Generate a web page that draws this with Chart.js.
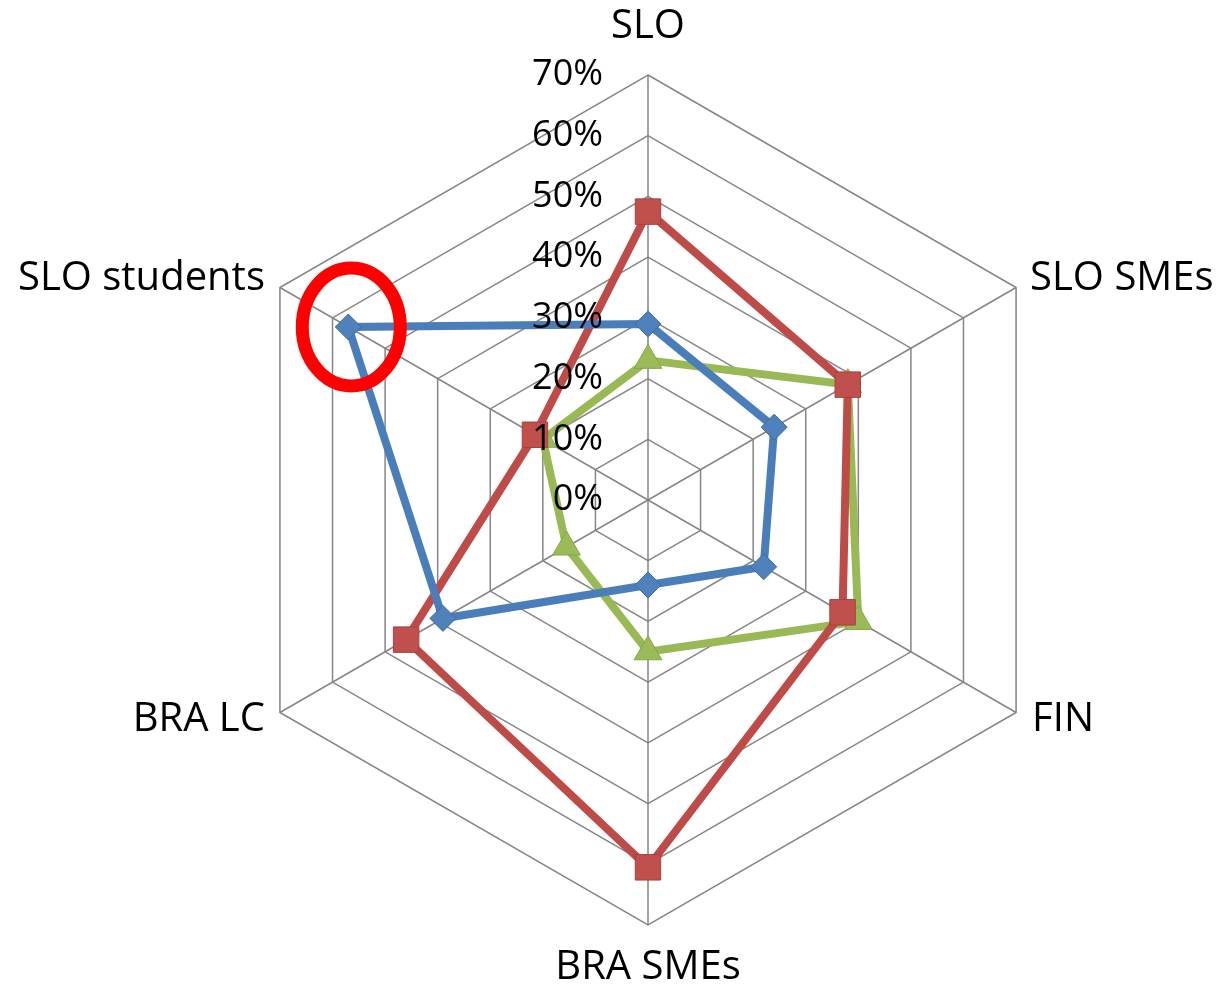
<!DOCTYPE html>
<html lang="en">
<head>
  <meta charset="UTF-8" />
  <title>Radar chart</title>
  <script src="https://cdn.jsdelivr.net/npm/chart.js"></script>
  <style>
    body {
      margin: 0;
      background: #fff;
    }
    .chart-box {
      width: 1225px;
      height: 992px;
    }
  </style>
</head>
<body>

  <div class="chart-box">
    <canvas id="radar"></canvas>
  </div>

  <script>
    const categories = ["SLO", "SLO SMEs", "FIN", "BRA SMEs", "BRA LC", "SLO students"];

    const seriesBlue = [29, 24, 22, 14, 39, 57];
    const seriesRed = [47.5, 38, 37, 60.5, 46, 21.5];
    const seriesGreen = [23, 38, 40, 25, 15.5, 20];

    const tickLabels = ["0%", "10%", "20%", "30%", "40%", "50%", "60%", "70%"];

    const FONT = "'Open Sans', 'Liberation Sans', sans-serif";

    // text is drawn by hand so the ticks sit left of the axis like the original
    const labelsPlugin = {
      id: 'labels',
      afterDatasetsDraw(chart) {
        const ctx = chart.ctx;
        const scale = chart.scales.r;
        ctx.save();
        ctx.fillStyle = '#000';
        ctx.textBaseline = 'middle';

        // tick labels
        ctx.font = `36px ${FONT}`;
        ctx.textAlign = 'right';
        scale.ticks.forEach((t, i) => {
          const d = scale.getDistanceFromCenterForValue(t.value);
          ctx.fillText(tickLabels[i], scale.xCenter - 45, scale.yCenter - d);
        });

        // category labels
        const offsets = [
          { align: 'center', dx: 0, dy: -48 },
          { align: 'left', dx: 14, dy: -9 },
          { align: 'left', dx: 16, dy: 7 },
          { align: 'center', dx: 0, dy: 43 },
          { align: 'right', dx: -15, dy: 7 },
          { align: 'right', dx: -15, dy: -9 }
        ];
        ctx.font = `40px ${FONT}`;
        categories.forEach((c, i) => {
          const p = scale.getPointPosition(i, scale.drawingArea);
          ctx.textAlign = offsets[i].align;
          ctx.fillText(c, p.x + offsets[i].dx, p.y + offsets[i].dy);
        });
        ctx.restore();
      },
      afterDraw(chart) {
        // red ring around the SLO students point of the blue series
        const pt = chart.getDatasetMeta(0).data[5];
        const ctx = chart.ctx;
        ctx.save();
        ctx.strokeStyle = '#ff0000';
        ctx.lineWidth = 13;
        ctx.beginPath();
        ctx.ellipse(pt.x + 3, pt.y, 49, 59, 0, 0, Math.PI * 2);
        ctx.stroke();
        ctx.restore();
      }
    };

    new Chart(document.getElementById('radar'), {
      type: 'radar',
      data: {
        labels: categories,
        datasets: [
          {
            label: 'Series 1',
            data: seriesBlue,
            borderColor: '#4a7ebb',
            backgroundColor: '#4a7ebb',
            fill: false,
            borderWidth: 8,
            pointStyle: 'rectRot',
            pointRadius: 13,
            pointBackgroundColor: '#4f81bd',
            pointBorderColor: '#3d6b9f',
            pointBorderWidth: 1
          },
          {
            label: 'Series 2',
            data: seriesRed,
            borderColor: '#be4b48',
            backgroundColor: '#be4b48',
            fill: false,
            borderWidth: 8,
            pointStyle: 'rect',
            pointRadius: 18,
            pointBackgroundColor: '#c0504d',
            pointBorderColor: '#a8403d',
            pointBorderWidth: 1
          },
          {
            label: 'Series 3',
            data: seriesGreen,
            borderColor: '#98b954',
            backgroundColor: '#98b954',
            fill: false,
            borderWidth: 8,
            pointStyle: 'triangle',
            pointRadius: 16,
            pointBackgroundColor: '#9bbb59',
            pointBorderColor: '#86a64a',
            pointBorderWidth: 1
          }
        ]
      },
      options: {
        responsive: true,
        maintainAspectRatio: false,
        animation: false,
        layout: {
          padding: { left: 198, right: 127, top: 75, bottom: 67 }
        },
        elements: {
          line: { tension: 0 }
        },
        plugins: {
          legend: { display: false },
          tooltip: { enabled: false }
        },
        scales: {
          r: {
            min: 0,
            max: 70,
            ticks: { stepSize: 10, display: false },
            pointLabels: { display: false },
            grid: { color: '#868686', lineWidth: 1.5 },
            angleLines: { color: '#868686', lineWidth: 1.5 }
          }
        }
      },
      plugins: [labelsPlugin]
    });
  </script>

</body>
</html>
